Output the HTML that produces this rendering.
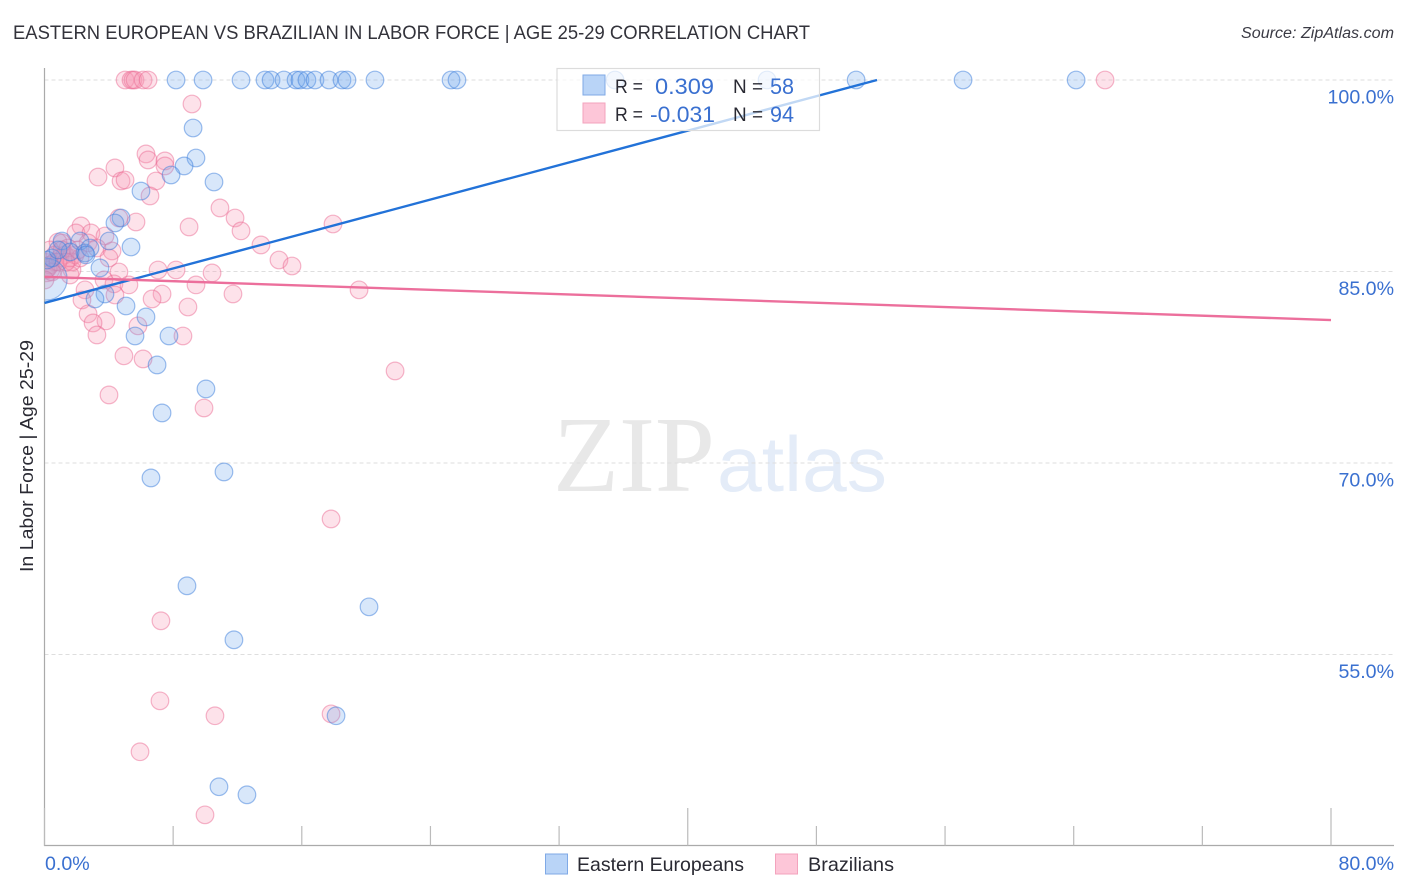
<!DOCTYPE html>
<html>
<head>
<meta charset="utf-8">
<style>
html,body{margin:0;padding:0;background:#fff;}
svg{display:block;font-family:"Liberation Sans",sans-serif;}
</style>
</head>
<body>
<svg id="chart" width="1406" height="892" viewBox="0 0 1406 892" xmlns="http://www.w3.org/2000/svg">
<defs><clipPath id="plot-clip"><rect x="45" y="60" width="1349" height="785"/></clipPath></defs>
<rect width="1406" height="892" fill="#fff"/>
<text x="13" y="39" font-size="19" fill="#33333b" textLength="797" lengthAdjust="spacingAndGlyphs">EASTERN EUROPEAN VS BRAZILIAN IN LABOR FORCE | AGE 25-29 CORRELATION CHART</text>
<text x="1241" y="38" font-size="15.5" font-style="italic" fill="#3a3a44" textLength="153" lengthAdjust="spacingAndGlyphs">Source: ZipAtlas.com</text>
<g>
<text x="553" y="491" font-family="'Liberation Serif',serif" font-size="108" fill="#e8e8e8" textLength="162" lengthAdjust="spacingAndGlyphs">ZIP</text>
<text x="717" y="491" font-size="78" fill="#e4ecf8" textLength="170" lengthAdjust="spacingAndGlyphs">atlas</text>
</g>
<g id="grid"></g>
<g id="axes"></g>
<g id="pink-points" clip-path="url(#plot-clip)"></g>
<g id="blue-points" clip-path="url(#plot-clip)"></g>
<g id="trends"></g>
<g>
<rect x="557" y="68.5" width="262.5" height="62" fill="#fff" fill-opacity="0.72" stroke="#dcdcdc" stroke-width="1.2"/>
<rect x="583" y="75" width="22" height="20" fill="#b9d4f7" stroke="#7fa9e6" stroke-width="1"/>
<rect x="583" y="103" width="22" height="20" fill="#fdc6d8" stroke="#f3a3bd" stroke-width="1"/>
<text x="615" y="93" font-size="19.5" fill="#2a2a33" textLength="28" lengthAdjust="spacingAndGlyphs">R =</text>
<text x="655" y="94" font-size="22" fill="#3a70d0" textLength="59" lengthAdjust="spacingAndGlyphs">0.309</text>
<text x="733" y="93" font-size="19.5" fill="#2a2a33" textLength="30" lengthAdjust="spacingAndGlyphs">N =</text>
<text x="770" y="94" font-size="22" fill="#3a70d0" textLength="24" lengthAdjust="spacingAndGlyphs">58</text>
<text x="615" y="121" font-size="19.5" fill="#2a2a33" textLength="28" lengthAdjust="spacingAndGlyphs">R =</text>
<text x="650" y="122" font-size="22" fill="#3a70d0" textLength="65" lengthAdjust="spacingAndGlyphs">-0.031</text>
<text x="733" y="121" font-size="19.5" fill="#2a2a33" textLength="30" lengthAdjust="spacingAndGlyphs">N =</text>
<text x="770" y="122" font-size="22" fill="#3a70d0" textLength="24" lengthAdjust="spacingAndGlyphs">94</text>
</g>
<text transform="translate(33,572) rotate(-90)" font-size="18.5" fill="#2a2a33" textLength="232" lengthAdjust="spacingAndGlyphs">In Labor Force | Age 25-29</text>
<g>
<rect x="545.5" y="854" width="22" height="20" fill="#b9d4f7" stroke="#7fa9e6" stroke-width="1"/>
<text x="577" y="871" font-size="19.5" fill="#2a2a33" textLength="167" lengthAdjust="spacingAndGlyphs">Eastern Europeans</text>
<rect x="775.5" y="854" width="22" height="20" fill="#fdc6d8" stroke="#f3a3bd" stroke-width="1"/>
<text x="808" y="871" font-size="19.5" fill="#2a2a33" textLength="86" lengthAdjust="spacingAndGlyphs">Brazilians</text>
</g>
</svg>
<script>
const xTickValues = [0, 8, 16, 24, 32, 40, 48, 56, 64, 72, 80];
const xMajorTicks = [0, 40, 80];
const xEdgeLabels = ['0.0%', '80.0%'];
const yTickValues = [100, 85, 70, 55];
const yTickLabels = ['100.0%', '85.0%', '70.0%', '55.0%'];

const blueX = [8.18,9.86,12.22,13.71,14.09,14.89,15.64,15.89,16.32,16.82,17.69,18.50,18.81,20.55,25.28,25.65,35.48,44.93,50.47,57.12,64.15,
  9.24,9.42,8.68,7.87,10.54,6.00,4.76,4.38,4.01,5.38,2.21,2.52,3.45,3.76,3.14,5.07,6.31,5.63,7.74,7.00,10.04,7.31,6.62,11.16,8.86,20.18,11.78,18.13,10.85,12.59,
  0.47,1.09,1.59,2.83,0.16,0.84,2.58];
const blueY = [100,100,100,100,100,100,100,100,100,100,100,100,100,100,100,100,100,100,100,100,100,
  96.24,93.89,93.27,92.56,92.01,91.30,89.19,88.80,87.39,86.92,87.39,86.45,85.28,83.24,82.85,82.30,81.44,79.95,79.95,77.68,75.80,73.92,68.83,69.30,60.38,58.73,56.15,50.20,44.64,44.01,
  86.06,87.39,86.53,86.84,85.90,86.69,86.30];

const pinkX = [5.01,5.38,5.50,5.63,6.13,6.44,65.95,
  9.17,6.31,6.44,7.49,7.49,4.38,3.33,4.76,5.01,6.93,6.56,10.91,4.63,5.69,11.85,12.22,8.99,17.94,2.27,1.96,2.89,3.76,13.46,1.09,0.84,2.71,3.26,4.20,4.01,14.58,15.39,7.06,8.18,10.42,4.63,1.71,0.09,1.59,3.70,4.32,5.25,9.42,7.31,6.69,11.72,19.56,2.52,4.38,2.33,8.92,2.71,3.82,3.02,5.81,3.26,8.61,4.94,6.13,21.80,4.01,9.92,17.82,7.24,7.18,10.60,17.82,5.94,9.98,
  0.34,0.65,0.96,1.27,1.59,1.90,0.34,0.65,0.22,1.46,1.71,0.47,0.03,1.09,2.21,0.84,1.34,2.08];
const pinkY = [100,100,100,100,100,100,100,
  98.12,94.21,93.74,93.66,93.27,93.11,92.40,92.09,92.17,92.09,90.92,89.98,89.19,88.88,89.19,88.18,88.49,88.72,88.57,88.02,88.02,87.78,87.08,87.24,87.31,87.24,86.84,86.61,86.06,85.90,85.43,85.12,85.12,84.89,84.96,85.12,85.12,84.73,84.34,84.03,83.95,83.95,83.24,82.85,83.24,83.56,83.56,83.16,82.77,82.22,81.68,81.13,80.97,80.74,80.03,79.95,78.39,78.15,77.21,75.33,74.31,65.62,57.64,51.37,50.20,50.35,47.38,42.44,
  86.69,86.30,86.06,86.30,86.06,86.30,85.51,85.75,85.28,86.84,85.75,84.96,84.34,86.69,86.06,85.75,85.75,86.69];

const blueTrendX = [0, 51.77];
const blueTrendY = [82.54, 100];
const pinkTrendX = [0, 80];
const pinkTrendY = [84.58, 81.2];

const blueLargeX = [0.1];
const blueLargeY = [84.4];
const pinkLargeX = [0.1];
const pinkLargeY = [85.3];

const NS = 'http://www.w3.org/2000/svg';
function sx(v) { return 44.5 + v * (1331 - 44.5) / 80; }
function sy(v) { return 80 + (100 - v) * (191.5 / 15); }
function mk(parent, tag, attrs) {
  const el = document.createElementNS(NS, tag);
  for (const k in attrs) el.setAttribute(k, attrs[k]);
  parent.appendChild(el);
  return el;
}
const grid = document.getElementById('grid');
const axes = document.getElementById('axes');
const trends = document.getElementById('trends');
const bluePts = document.getElementById('blue-points');
const pinkPts = document.getElementById('pink-points');

yTickValues.forEach(function (v, i) {
  const line = mk(grid, 'line', {x1: 44.5, x2: 1394, y1: sy(v), y2: sy(v), stroke: '#dedede', 'stroke-width': 1, 'stroke-dasharray': '4 3'});
  
  
  const label = mk(axes, 'text', {x: 1394, y: sy(v) + 23.5, 'text-anchor': 'end', 'font-size': 19.6, fill: '#3a70d0'});
  label.textContent = yTickLabels[i];
  
  
});

const yAxis = mk(axes, 'line', {x1: 44.5, x2: 44.5, y1: 68, y2: 846, stroke: '#aaa', 'stroke-width': 1.2});


const xAxis = mk(axes, 'line', {x1: 44, x2: 1394, y1: 845.5, y2: 845.5, stroke: '#aaa', 'stroke-width': 1.2});



xTickValues.forEach(function (v) {
  const major = xMajorTicks.indexOf(v) >= 0;
  const tick = mk(axes, 'line', {x1: sx(v), x2: sx(v), y1: major ? 808 : 826, y2: 845.5, stroke: '#bbb', 'stroke-width': 1.2});
  
  
});

const xStartLabel = mk(axes, 'text', {x: 45, y: 870, 'font-size': 19.6, fill: '#3a70d0'});
xStartLabel.textContent = xEdgeLabels[0];


const xEndLabel = mk(axes, 'text', {x: 1394, y: 870, 'text-anchor': 'end', 'font-size': 19.6, fill: '#3a70d0'});
xEndLabel.textContent = xEdgeLabels[1];



const pinkStyle = {fill: 'rgba(247,150,180,0.28)', stroke: 'rgba(236,110,150,0.5)', 'stroke-width': 1.2};
const blueStyle = {fill: 'rgba(110,165,235,0.27)', stroke: 'rgba(60,125,220,0.5)', 'stroke-width': 1.2};

pinkLargeX.forEach(function (v, i) {
  const c = mk(pinkPts, 'circle', Object.assign({cx: sx(v), cy: sy(pinkLargeY[i]), r: 14}, pinkStyle));
  
  
});
pinkX.forEach(function (v, i) {
  const c = mk(pinkPts, 'circle', Object.assign({cx: sx(v), cy: sy(pinkY[i]), r: 8.8}, pinkStyle));
  
  
});
blueLargeX.forEach(function (v, i) {
  const c = mk(bluePts, 'circle', Object.assign({cx: sx(v), cy: sy(blueLargeY[i]), r: 21}, blueStyle));
  
  
});
blueX.forEach(function (v, i) {
  const c = mk(bluePts, 'circle', Object.assign({cx: sx(v), cy: sy(blueY[i]), r: 8.8}, blueStyle));
  
  
});

const blueTrend = mk(trends, 'line', {x1: sx(blueTrendX[0]), y1: sy(blueTrendY[0]), x2: sx(blueTrendX[1]), y2: sy(blueTrendY[1]), stroke: '#2272d8', 'stroke-width': 2.4});


const pinkTrend = mk(trends, 'line', {x1: sx(pinkTrendX[0]), y1: sy(pinkTrendY[0]), x2: sx(pinkTrendX[1]), y2: sy(pinkTrendY[1]), stroke: '#ec6f9c', 'stroke-width': 2.4});


</script>
</body>
</html>
